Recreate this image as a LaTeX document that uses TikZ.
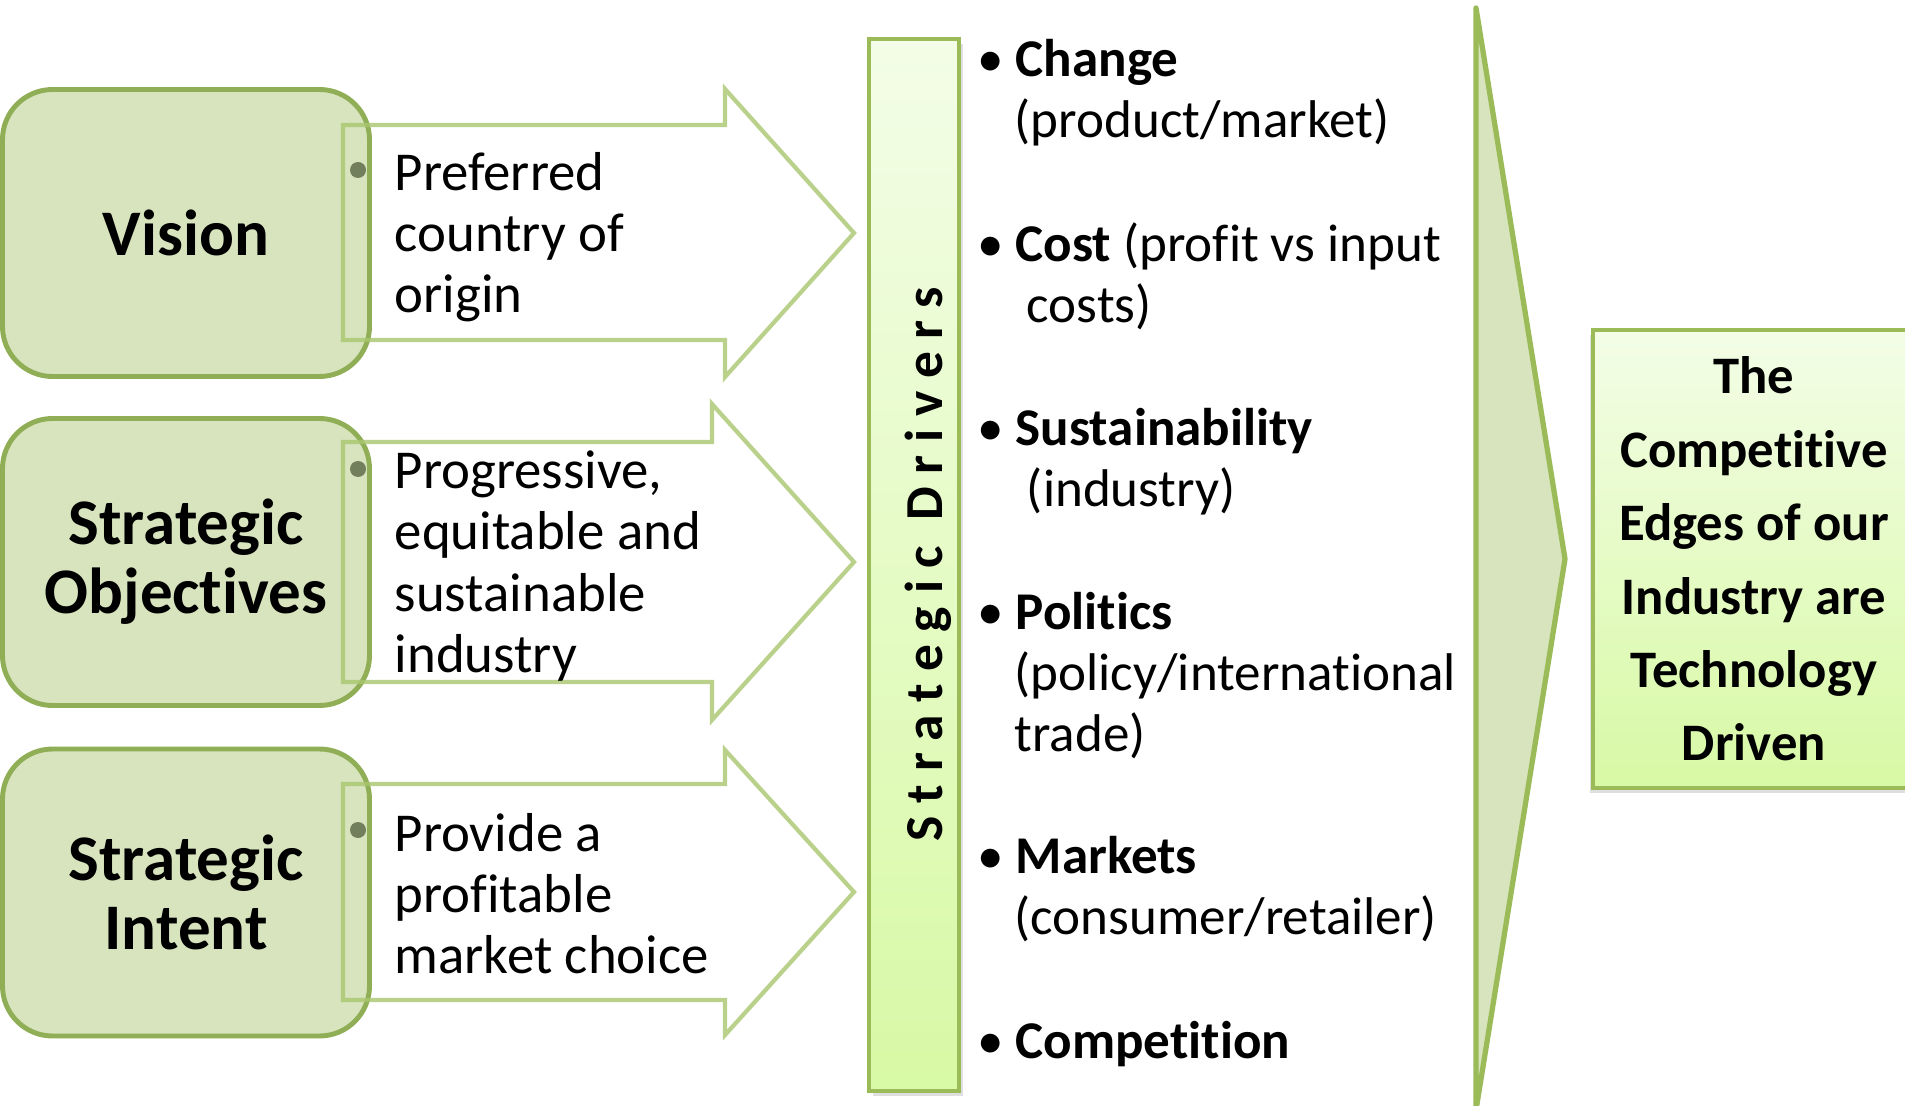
\documentclass[tikz,border=0pt]{standalone}
\usepackage{fontspec}
\setmainfont{Carlito}[Ligatures=NoCommon]
\usetikzlibrary{shadows}

\definecolor{boxfill}{HTML}{D7E4BD}
\definecolor{boxline}{HTML}{8FAE55}
\definecolor{arrowline}{HTML}{A9C66F}
\definecolor{barline}{HTML}{9BBB59}
\definecolor{lighttop}{HTML}{F3FDE7}
\definecolor{lightbottom}{HTML}{D8F9A5}
\definecolor{dotgrey}{HTML}{727F5C}

\begin{document}
\begin{tikzpicture}[
    leftbox/.style={rectangle, rounded corners=0.5cm, draw=boxline, line width=1.4pt, fill=boxfill, minimum width=3.67cm, minimum height=2.87cm, align=center, font=\fontsize{18.5}{19.6}\selectfont\bfseries},
    blockarrow/.style={draw=arrowline, draw opacity=0.8, line width=1.2pt},
    arrowtext/.style={anchor=west, inner sep=0pt, align=left, font=\fontsize{15.6}{17.4}\selectfont},
    bulletdot/.style={circle, fill=dotgrey, inner sep=0pt, minimum size=0.16cm},
    driverbar/.style={rectangle, draw=barline, line width=1.2pt, top color=lighttop, bottom color=lightbottom, minimum width=0.9cm, minimum height=10.52cm, drop shadow={opacity=0.25, shadow xshift=0.04cm, shadow yshift=-0.05cm}},
    barlabel/.style={rotate=90, anchor=mid, inner sep=0pt, font=\fontsize{15.2}{17}\selectfont\bfseries\addfontfeature{LetterSpace=24}},
    drvtext/.style={anchor=base west, inner sep=0pt, font=\fontsize{15.1}{17.4}\selectfont},
    chevron/.style={draw=barline, fill=boxfill, line width=1.5pt, line join=round},
    endbox/.style={rectangle, draw=barline, line width=0.9pt, top color=lighttop, bottom color=lightbottom, minimum width=3.22cm, minimum height=4.58cm, align=center, font=\fontsize{15}{20.9}\selectfont\bfseries, drop shadow={opacity=0.25, shadow xshift=-0.03cm, shadow yshift=-0.05cm}}
  ]
    \useasboundingbox (0,0) rectangle (19.05,-11.06);

    % 左の箱
    \node[leftbox] (vision) at (1.86,-2.33) {Vision};
    \node[leftbox] (objectives) at (1.86,-5.62) {Strategic\\Objectives};
    \node[leftbox] (intent) at (1.86,-8.925) {Strategic\\Intent};

    % 矢印
    \draw[blockarrow] (3.43,-1.25) -- (7.25,-1.25) -- (7.25,-0.89) -- (8.54,-2.33) -- (7.25,-3.77) -- (7.25,-3.40) -- (3.43,-3.40) -- cycle;
    \draw[blockarrow] (3.43,-4.42) -- (7.12,-4.42) -- (7.12,-4.04) -- (8.54,-5.62) -- (7.12,-7.20) -- (7.12,-6.82) -- (3.43,-6.82) -- cycle;
    \draw[blockarrow] (3.43,-7.84) -- (7.25,-7.84) -- (7.25,-7.50) -- (8.54,-8.92) -- (7.25,-10.35) -- (7.25,-10.00) -- (3.43,-10.00) -- cycle;

    % 矢印の中のテキスト
    \node[bulletdot] (visiondot) at (3.58,-1.70) {};
    \node[bulletdot] (objectivesdot) at (3.58,-4.69) {};
    \node[bulletdot] (intentdot) at (3.58,-8.30) {};
    \node[arrowtext] (visiontext) at (3.94,-2.37) {Preferred\\country of\\origin};
    \node[arrowtext] (objectivestext) at (3.94,-5.66) {Progressive,\\equitable and\\sustainable\\industry};
    \node[arrowtext] (intenttext) at (3.94,-8.94) {Provide a\\profitable\\market choice};

    % 縦のバー
    \node[driverbar] (bar) at (9.14,-5.65) {};
    \node[barlabel] (barlabel) at (9.34,-5.64) {Strategic Drivers};

    % ドライバーのリスト
    \node[drvtext] (change) at (10.15,-0.765) {\llap{\textbullet\hspace{0.23em}}\textbf{Change}};
    \node[drvtext] (change2) at (10.14,-1.375) {(product/market)};
    \node[drvtext] (cost) at (10.15,-2.615) {\llap{\textbullet\hspace{0.23em}}\textbf{Cost} (profit vs input};
    \node[drvtext] (cost2) at (10.14,-3.225) {\hspace*{0.23em}costs)};
    \node[drvtext] (sustain) at (10.15,-4.455) {\llap{\textbullet\hspace{0.23em}}\textbf{Sustainability}};
    \node[drvtext] (sustain2) at (10.14,-5.065) {\hspace*{0.23em}(industry)};
    \node[drvtext] (politics) at (10.15,-6.295) {\llap{\textbullet\hspace{0.23em}}\textbf{Politics}};
    \node[drvtext] (politics2) at (10.14,-6.905) {(policy/international};
    \node[drvtext] (politics3) at (10.14,-7.515) {trade)};
    \node[drvtext] (markets) at (10.15,-8.735) {\llap{\textbullet\hspace{0.23em}}\textbf{Markets}};
    \node[drvtext] (markets2) at (10.14,-9.345) {(consumer/retailer)};
    \node[drvtext] (competition) at (10.15,-10.585) {\llap{\textbullet\hspace{0.23em}}\textbf{Competition}};

    % 大きな矢印と右の箱
    \draw[chevron] (14.76,-0.08) -- (15.65,-5.59) -- (14.76,-11.10) -- cycle;
    \node[endbox] (edges) at (17.54,-5.59) {The\\Competitive\\Edges of our\\Industry are\\Technology\\Driven};
\end{tikzpicture}
\end{document}
